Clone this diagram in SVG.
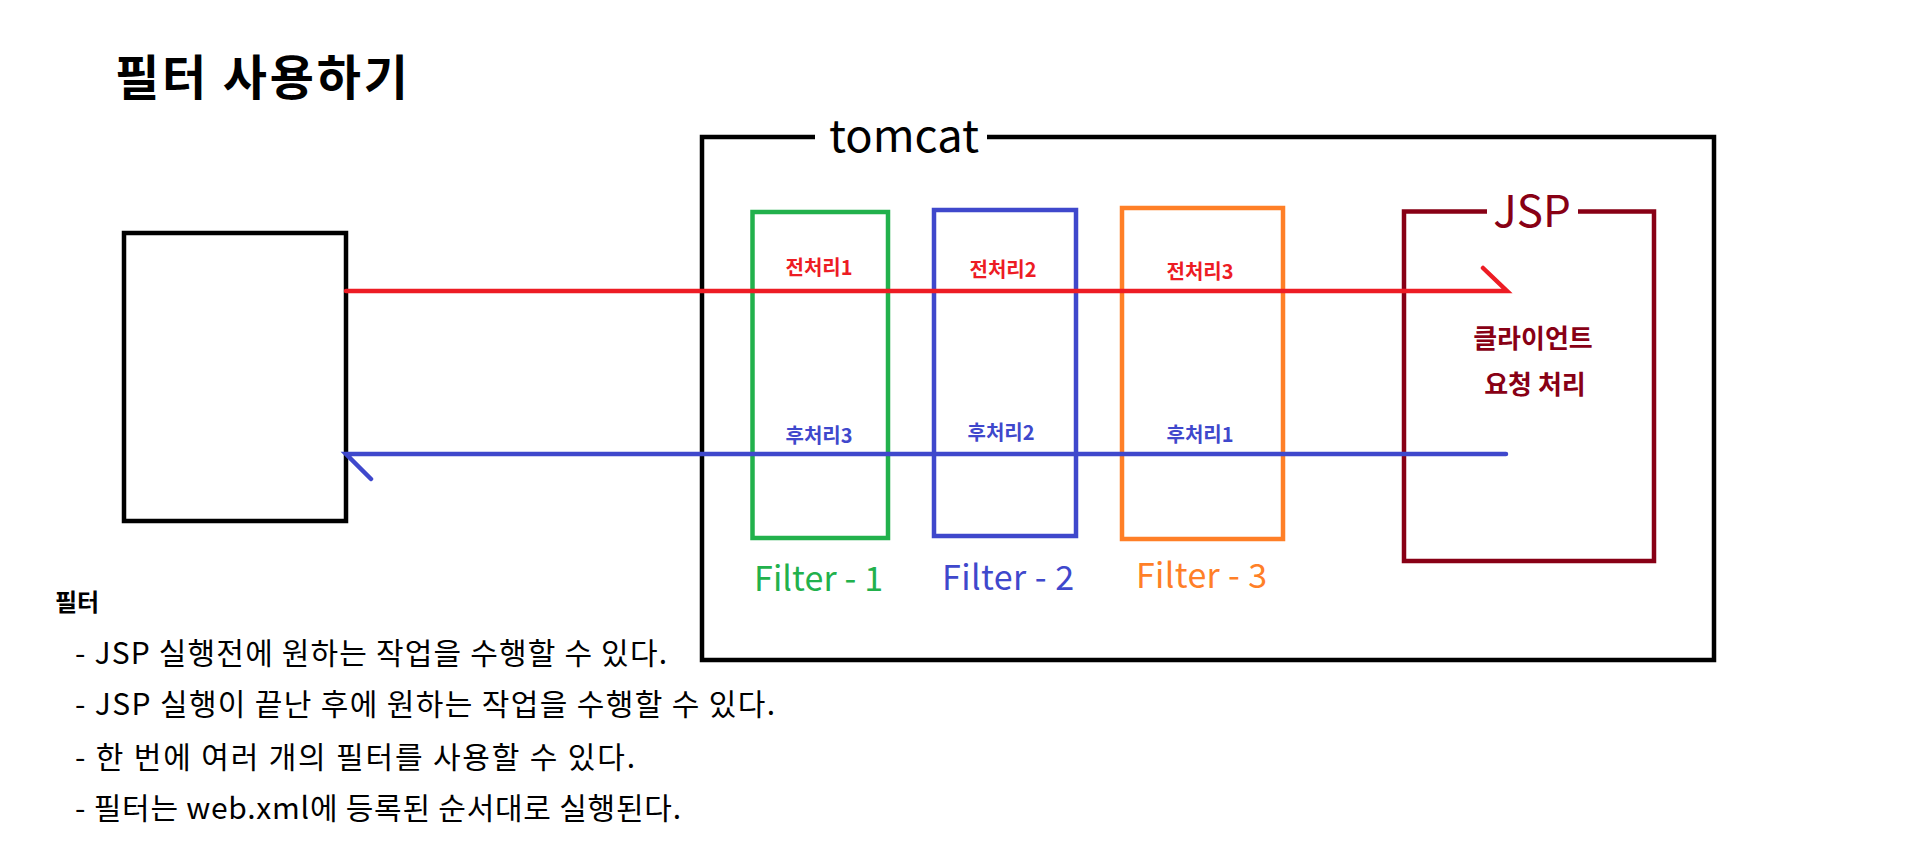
<svg xmlns="http://www.w3.org/2000/svg" width="1905" height="861" viewBox="0 0 1905 861">
<style>
.k{font-family:"Noto Sans CJK KR","Liberation Sans",sans-serif}
.b{font-weight:bold}
.box{fill:none;stroke-width:4.5}
.ln{fill:none;stroke-width:4.5;stroke-linecap:round}
</style>
<rect width="1905" height="861" fill="#fff"/>
<text class="k b" x="115" y="95" font-size="48" fill="#000" textLength="293" lengthAdjust="spacing">필터 사용하기</text>

<g id="client"><rect class="box" x="124" y="233" width="222" height="288" stroke="#000" stroke-width="5"/></g>

<g id="tomcat">
<path class="box" d="M815,137 H702 V660 H1714 V137 H987" stroke="#000" stroke-width="4"/>
<text class="k" x="829" y="152" font-size="45" fill="#000" textLength="150" lengthAdjust="spacingAndGlyphs">tomcat</text>
</g>

<g id="filter1">
<rect class="box" x="752.5" y="212" width="135.5" height="326" stroke="#22B14C"/>
<text class="k" x="754" y="591" font-size="34" fill="#22B14C" textLength="129" lengthAdjust="spacing">Filter - 1</text>
</g>
<g id="filter2">
<rect class="box" x="934" y="210" width="142" height="326" stroke="#3F48CC"/>
<text class="k" x="942" y="590" font-size="34" fill="#3F48CC" textLength="132" lengthAdjust="spacing">Filter - 2</text>
</g>
<g id="filter3">
<rect class="box" x="1122" y="208" width="161" height="331" stroke="#FF7F27"/>
<text class="k" x="1136" y="588" font-size="34" fill="#FF7F27" textLength="131" lengthAdjust="spacing">Filter - 3</text>
</g>

<g id="jsp">
<path class="box" d="M1487,211.5 H1404 V561 H1654 V211.5 H1578" stroke="#880015"/>
<text class="k" x="1532" y="227" font-size="44" fill="#880015" text-anchor="middle">JSP</text>
<text class="k b" x="1533" y="348" font-size="26" fill="#880015" text-anchor="middle">클라이언트</text>
<text class="k b" x="1535" y="394" font-size="26" fill="#880015" text-anchor="middle">요청 처리</text>
</g>

<g id="connectors">
<path class="ln" d="M346,291 H1507 L1483,268" stroke="#ED1C24"/>
<path class="ln" d="M1506,454 H346 L371,479" stroke="#3F48CC"/>
</g>

<g id="labels" class="k b" font-size="20" text-anchor="middle">
<text x="819" y="275" fill="#ED1C24">전처리1</text>
<text x="1003" y="277" fill="#ED1C24">전처리2</text>
<text x="1200" y="279" fill="#ED1C24">전처리3</text>
<text x="819" y="443" fill="#3F48CC">후처리3</text>
<text x="1001" y="440" fill="#3F48CC">후처리2</text>
<text x="1200" y="442" fill="#3F48CC">후처리1</text>
</g>

<g id="notes" class="k" fill="#000">
<text class="b" x="55" y="611" font-size="24">필터</text>
<text x="75" y="664" font-size="30" textLength="592" lengthAdjust="spacing">- JSP 실행전에 원하는 작업을 수행할 수 있다.</text>
<text x="75" y="715" font-size="30" textLength="700" lengthAdjust="spacing">- JSP 실행이 끝난 후에 원하는 작업을 수행할 수 있다.</text>
<text x="75" y="768" font-size="30" textLength="560" lengthAdjust="spacing">- 한 번에 여러 개의 필터를 사용할 수 있다.</text>
<text x="75" y="819" font-size="30" textLength="606" lengthAdjust="spacing">- 필터는 web.xml에 등록된 순서대로 실행된다.</text>
</g>
</svg>
